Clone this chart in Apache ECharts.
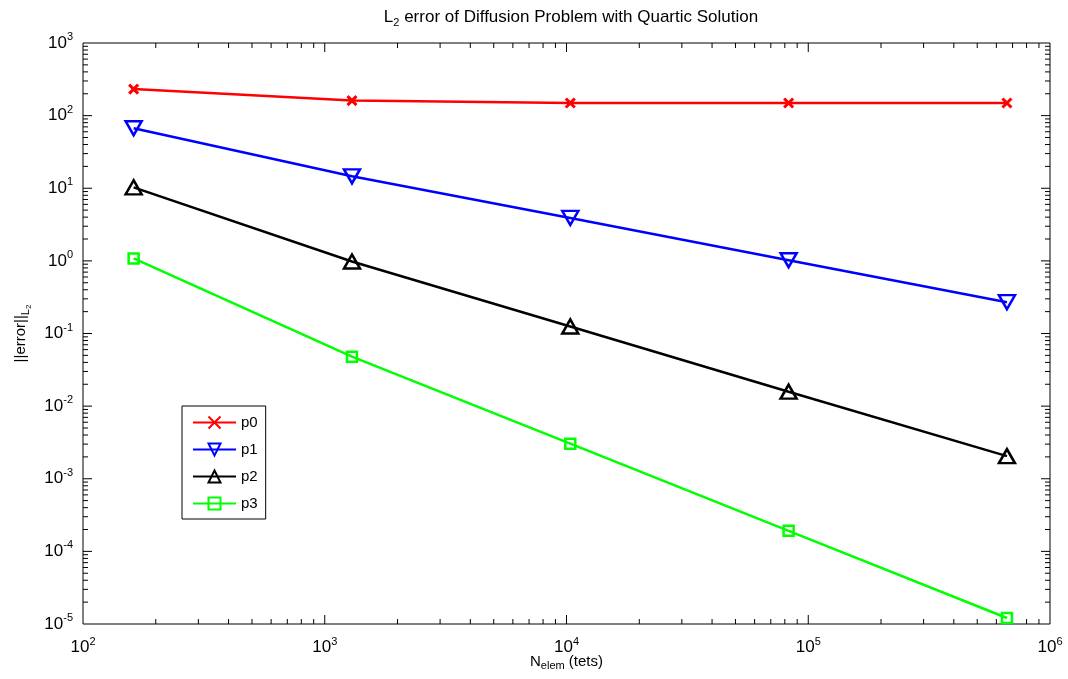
<!DOCTYPE html>
<html>
<head>
<meta charset="utf-8">
<script src="https://cdn.jsdelivr.net/npm/echarts@6/dist/echarts.min.js"></script>
<style>html,body{margin:0;padding:0;background:#fff;}#c{width:1068px;height:679px;}</style>
</head>
<body>
<div id="c"></div>
<script>
const nElem = [162, 1296, 10368, 82944, 663552];
const p0 = [232, 161, 149, 149, 149];
const p1 = [67, 14.6, 3.9, 1.02, 0.27];
const p2 = [10.3, 0.98, 0.125, 0.0158, 0.00205];
const p3 = [1.08, 0.048, 0.00304, 0.000192, 0.0000121];
const seriesNames = ['p0', 'p1', 'p2', 'p3'];
const seriesColors = ['#ff0000', '#0000ff', '#000000', '#00ff00'];

const X_MIN = 1e2, X_MAX = 1e6, Y_MIN = 1e-5, Y_MAX = 1e3;
const minorMult = [2, 3, 4, 5, 6, 7, 8, 9];
const MAJOR_LEN = 9, MINOR_LEN = 5;

function ticksFor(lo, hi) {
  const out = [];
  for (let e = Math.round(Math.log10(lo)); e < Math.round(Math.log10(hi)); e++) {
    const b = Math.pow(10, e);
    if (e > Math.round(Math.log10(lo))) out.push([b, MAJOR_LEN]);
    minorMult.forEach(m => out.push([m * b, MINOR_LEN]));
  }
  return out;
}
const xTicks = ticksFor(X_MIN, X_MAX);
const yTicks = ticksFor(Y_MIN, Y_MAX);

const FONT = '"Liberation Sans", Arial, Helvetica, sans-serif';
function powLabel(v) {
  const e = Math.round(Math.log10(v));
  return '{b|10}{s|' + e + '}';
}
const powRich = {
  b: { fontSize: 17, fontFamily: FONT, color: '#000' },
  s: { fontSize: 11, fontFamily: FONT, color: '#000', padding: [0, 0, 12, 0] }
};

const chart = echarts.init(document.getElementById('c'), null, { renderer: 'canvas' });

const lineSeries = seriesNames.map((name, i) => {
  const vals = [p0, p1, p2, p3][i];
  const col = seriesColors[i];
  const s = {
    name: name,
    type: 'line',
    data: nElem.map((x, k) => [x, vals[k]]),
    lineStyle: { color: col, width: 2.5 },
    itemStyle: { color: 'rgba(0,0,0,0)', borderColor: col, borderWidth: 2.5 },
    showSymbol: true,
    animation: false,
    z: 3
  };
  if (i === 0) {
    s.symbol = 'path://M0,0L10,10M10,0L0,10';
    s.symbolSize = 9;
    s.itemStyle = { color: 'rgba(0,0,0,0)', borderColor: col, borderWidth: 3 };
  } else if (i === 1) {
    s.symbol = 'triangle';
    s.symbolRotate = 180;
    s.symbolSize = [16, 14];
  } else if (i === 2) {
    s.symbol = 'triangle';
    s.symbolSize = [16, 14];
  } else {
    s.symbol = 'rect';
    s.symbolSize = 10;
  }
  return s;
});

function tickRender(isX) {
  return function (params, api) {
    const v = api.value(isX ? 0 : 1);
    const len = api.value(isX ? 1 : 0);
    const st = { stroke: '#000', lineWidth: 1 };
    if (isX) {
      const pb = api.coord([v, Y_MIN]);
      const pt = api.coord([v, Y_MAX]);
      return { type: 'group', children: [
        { type: 'line', shape: { x1: pb[0], y1: pb[1], x2: pb[0], y2: pb[1] - len }, style: st },
        { type: 'line', shape: { x1: pt[0], y1: pt[1], x2: pt[0], y2: pt[1] + len }, style: st }
      ]};
    } else {
      const pl = api.coord([X_MIN, v]);
      const pr = api.coord([X_MAX, v]);
      return { type: 'group', children: [
        { type: 'line', shape: { x1: pl[0], y1: pl[1], x2: pl[0] + len, y2: pl[1] }, style: st },
        { type: 'line', shape: { x1: pr[0], y1: pr[1], x2: pr[0] - len, y2: pr[1] }, style: st }
      ]};
    }
  };
}

const option = {
  backgroundColor: '#fff',
  animation: false,
  title: {
    text: '{n|L}{sub|2}{n| error of Diffusion Problem with Quartic Solution}',
    left: 566, top: 2, textAlign: 'center',
    textStyle: {
      fontWeight: 'normal',
      rich: {
        n: { fontSize: 17, fontWeight: 'normal', fontFamily: FONT, color: '#000' },
        sub: { fontSize: 11, fontWeight: 'normal', fontFamily: FONT, color: '#000', padding: [10, 0, 0, 0] }
      }
    }
  },
  grid: { left: 83, right: 18, top: 43, bottom: 55, show: true, borderColor: '#000', borderWidth: 1, backgroundColor: '#fff', containLabel: false, outerBoundsMode: 'none' },
  legend: {
    data: seriesNames,
    orient: 'vertical',
    left: 182, top: 406,
    backgroundColor: '#fff',
    borderColor: '#000', borderWidth: 1, borderRadius: 0,
    padding: [9, 8, 8, 10],
    itemGap: 12, itemWidth: 43, itemHeight: 15,
    textStyle: { fontSize: 15, fontFamily: FONT, color: '#000' }
  },
  xAxis: {
    type: 'log', logBase: 10, min: X_MIN, max: X_MAX,
    name: '{n|N}{sub|elem}{n| (tets)}',
    nameLocation: 'middle', nameGap: 28, nameMoveOverlap: false,
    nameTextStyle: { rich: {
      n: { fontSize: 15, fontFamily: FONT, color: '#000' },
      sub: { fontSize: 11, fontFamily: FONT, color: '#000', padding: [8, 0, 0, 0] }
    } },
    axisLine: { show: false },
    axisTick: { show: false },
    splitLine: { show: false },
    axisLabel: { formatter: powLabel, rich: powRich, margin: 12 }
  },
  yAxis: {
    type: 'log', logBase: 10, min: Y_MIN, max: Y_MAX,
    name: '{n|||error||}{sub|L}{sub2|2}',
    nameLocation: 'middle', nameGap: 50, nameRotate: 90, nameMoveOverlap: false,
    nameTextStyle: { rich: {
      n: { fontSize: 15, fontFamily: FONT, color: '#000' },
      sub: { fontSize: 11, fontFamily: FONT, color: '#000', padding: [9, 0, 0, 0] },
      sub2: { fontSize: 8, fontFamily: FONT, color: '#000', padding: [16, 0, 0, 0] }
    } },
    axisLine: { show: false },
    axisTick: { show: false },
    splitLine: { show: false },
    axisLabel: { formatter: powLabel, rich: powRich, margin: 10 }
  },
  series: lineSeries.concat([
    { type: 'custom', name: 'xticks', data: xTicks, renderItem: tickRender(true), clip: false, silent: true, z: 1 },
    { type: 'custom', name: 'yticks', data: yTicks.map(t => [t[1], t[0]]), renderItem: tickRender(false), clip: false, silent: true, z: 1 }
  ])
};
chart.setOption(option);
</script>
</body>
</html>
